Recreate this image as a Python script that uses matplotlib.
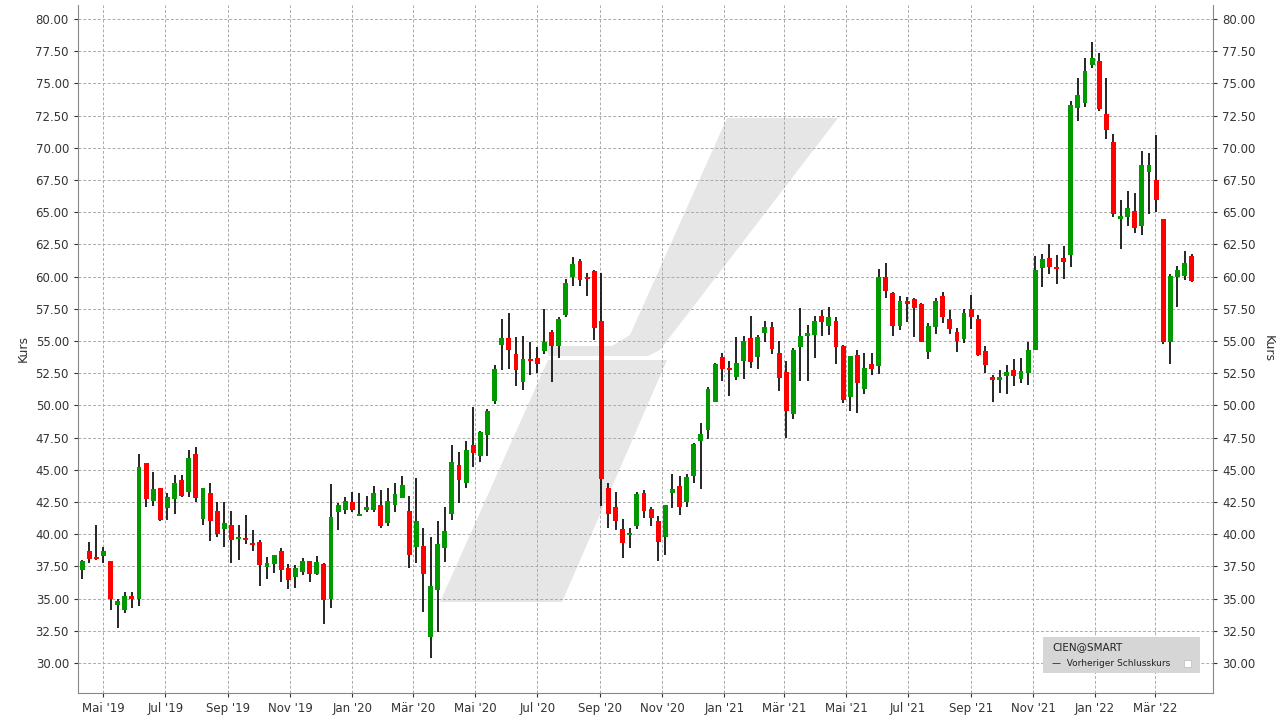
import matplotlib
matplotlib.use("Agg")
import matplotlib.pyplot as plt
import matplotlib.dates as mdates
from matplotlib.patches import Polygon, Rectangle
from matplotlib.transforms import IdentityTransform
import datetime as dt

start = dt.date(2019, 4, 10)
opens = [37.2,38.7,38.2,38.3,37.9,34.5,34.1,35.2,35.0,45.5,42.6,43.6,42.0,42.7,44.2,43.3,46.2,41.2,43.2,41.8,
         40.4,40.75,39.6,39.65,39.3,39.4,37.45,37.7,38.7,37.35,36.7,37.1,37.9,36.9,37.7,34.95,41.7,41.85,42.5,41.45,
         41.9,41.9,42.3,40.85,42.3,42.8,41.8,39.0,39.1,32.05,35.7,38.95,41.55,45.35,43.95,46.95,46.05,47.7,50.35,54.7,
         55.2,54.0,51.8,53.6,53.65,54.2,55.7,54.6,57.0,59.95,61.2,59.95,60.4,56.55,43.6,42.1,40.4,39.95,40.6,43.2,
         41.95,41.0,39.8,43.2,43.75,42.5,44.5,47.2,48.1,50.3,53.75,52.9,52.2,53.45,55.2,53.75,55.6,56.1,54.05,52.6,
         49.3,54.55,55.4,55.5,56.95,56.2,56.55,54.6,50.65,53.9,51.3,53.2,53.05,59.95,58.7,56.15,58.1,58.25,57.85,54.15,
         56.1,58.5,56.7,55.7,55.15,57.45,56.7,54.2,52.2,51.95,52.25,52.75,52.05,52.55,54.3,60.7,61.45,60.75,61.45,61.7,
         73.1,73.5,76.4,76.75,72.65,70.45,64.45,64.6,65.1,63.95,68.15,67.5,64.45,54.95,60.0,60.05,61.6]
closes = [37.95,38.1,38.05,38.7,35.0,34.8,35.2,35.0,45.2,42.7,43.5,41.1,42.9,44.0,43.0,45.9,42.8,43.6,41.0,40.0,
          40.9,39.55,39.8,39.55,39.15,37.6,37.75,38.4,37.2,36.45,37.4,37.9,36.9,37.85,34.9,41.3,42.25,42.6,41.85,41.55,
          42.1,43.2,40.6,42.6,43.15,43.85,38.4,41.05,36.9,35.95,39.25,40.25,45.6,44.2,46.5,46.3,47.9,49.6,52.8,55.2,
          54.3,52.75,53.6,53.45,53.2,54.95,54.6,56.7,59.5,60.95,59.7,59.8,56.0,44.3,41.6,41.0,39.3,40.1,43.1,41.8,
          41.25,39.4,42.3,43.5,42.1,44.45,47.0,47.8,51.3,53.2,52.85,52.75,53.3,55.0,53.4,55.3,56.1,54.4,52.1,49.55,
          54.3,55.4,55.6,56.55,56.5,56.85,54.5,50.45,53.8,51.75,52.9,52.85,59.95,58.9,56.15,58.1,57.85,57.6,54.95,56.15,
          58.1,56.9,55.95,55.0,57.15,56.9,53.95,53.15,51.95,52.2,52.6,52.25,52.65,54.3,60.5,61.35,60.75,60.6,61.1,73.3,
          74.1,76.0,77.0,73.0,71.4,64.9,64.7,65.35,63.8,68.65,68.65,65.95,54.95,60.05,60.5,61.05,59.65]
highs = [38.0,39.4,40.7,39.0,37.95,35.0,35.5,35.5,46.2,45.5,44.8,43.6,43.2,44.6,44.6,46.5,46.8,43.6,44.0,42.5,
         42.5,41.8,40.7,41.5,40.3,39.55,38.2,38.4,38.9,37.7,37.6,38.15,37.9,38.3,37.75,43.9,42.4,42.9,43.3,43.2,
         42.95,43.75,43.4,43.55,44.0,44.55,43.0,44.4,40.5,39.75,41.05,42.1,46.9,46.35,47.2,49.85,48.0,49.7,53.1,56.7,
         57.15,55.3,55.4,54.95,54.5,57.45,55.85,56.85,59.8,61.5,61.4,60.3,60.55,60.25,44.0,43.25,41.2,40.5,43.3,43.4,
         42.1,41.4,42.3,44.7,44.5,44.7,47.05,48.6,51.4,53.3,54.05,53.45,55.3,55.4,56.95,55.45,56.55,56.5,55.0,53.45,
         54.45,57.55,56.25,56.95,57.4,57.65,56.85,54.7,53.8,54.3,54.05,54.05,60.6,61.05,58.8,58.5,58.4,58.35,57.95,56.4,
         58.35,58.8,57.4,56.0,57.5,58.55,57.0,54.6,52.35,52.75,53.1,53.6,53.65,54.9,61.6,61.75,62.5,61.7,62.35,73.65,
         75.45,77.0,78.2,77.4,75.45,71.1,65.95,66.65,66.5,69.75,69.6,71.0,64.45,60.2,60.8,62.0,61.75]
lows = [36.5,37.8,38.0,37.8,34.1,32.7,33.9,34.3,34.4,42.1,42.2,41.0,41.1,41.6,42.9,42.9,42.5,40.7,39.5,39.8,
        39.0,37.8,38.0,39.25,38.7,36.0,36.5,37.0,36.3,35.75,35.8,36.85,36.3,36.8,33.0,34.3,40.3,41.55,41.7,41.4,
        41.7,41.7,40.45,40.6,41.7,42.8,37.4,37.8,33.95,30.4,32.4,37.85,41.1,42.45,43.55,45.2,45.6,46.05,50.1,52.75,
        52.85,51.5,51.2,52.35,52.5,54.0,51.8,53.65,56.9,59.25,59.25,58.5,55.05,42.2,40.5,40.35,38.15,38.9,40.4,41.25,
        40.6,37.9,38.4,42.05,41.5,42.1,43.95,43.5,47.4,50.3,51.9,50.7,51.95,52.05,52.9,52.85,54.9,54.0,51.1,47.5,
        48.95,51.9,51.9,53.7,55.4,55.45,53.25,50.2,49.6,49.4,50.9,52.35,52.45,58.35,55.4,55.85,56.45,55.3,54.95,53.6,
        55.55,56.4,55.55,54.15,54.85,55.95,53.8,52.5,50.25,50.95,50.9,51.5,51.75,51.6,54.3,59.2,60.2,59.4,59.8,60.75,
        72.1,73.2,76.2,72.85,70.7,64.65,62.15,63.95,63.4,63.25,64.9,65.05,54.8,53.2,57.65,59.7,59.6]

tick_months = [(2019,5),(2019,7),(2019,9),(2019,11),(2020,1),(2020,3),(2020,5),(2020,7),(2020,9),(2020,11),
               (2021,1),(2021,3),(2021,5),(2021,7),(2021,9),(2021,11),(2022,1),(2022,3)]
tick_labels = ["Mai '19","Jul '19","Sep '19","Nov '19","Jan '20","Mär '20","Mai '20","Jul '20","Sep '20","Nov '20",
               "Jan '21","Mär '21","Mai '21","Jul '21","Sep '21","Nov '21","Jan '22","Mär '22"]
yticks = [30 + 2.5*i for i in range(21)]

W, H = 1281, 720
fig = plt.figure(figsize=(W/100, H/100), dpi=100)
ax = fig.add_axes([78/W, 1-693/H, (1213-78)/W, (693-5)/H])

dates = [start + dt.timedelta(days=7*i) for i in range(len(opens))]
xs = mdates.date2num(dates)
for x, o, c, h, l in zip(xs, opens, closes, highs, lows):
    col = "#009a00" if c >= o else "#ff0000"
    ax.vlines(x, l, h, color="black", lw=1.2, zorder=3)
    lo, hi = min(o, c), max(o, c)
    ax.add_patch(Rectangle((x-2.4, lo), 4.8, max(hi-lo, 0.12), facecolor=col, edgecolor="none", zorder=4))

ax.set_xlim(mdates.date2num(dt.date(2019, 4, 6)), mdates.date2num(dt.date(2022, 4, 27)))
ax.set_ylim(27.67, 81.09)
ax.set_xticks([mdates.date2num(dt.date(y, m, 1)) for y, m in tick_months])
ax.set_xticklabels(tick_labels)
ax.set_yticks(yticks)
ax.set_yticklabels([f"{v:.2f}" for v in yticks])
ax.tick_params(labelsize=8.5, colors="#333333", length=3, right=True, labelright=True)
ax.grid(True, color="#aaaaaa", ls=(0, (3, 2)), lw=0.7)
ax.set_axisbelow(True)
for s in ["left", "right", "bottom"]:
    ax.spines[s].set_color("#888888")
ax.spines["top"].set_visible(False)
ax.set_ylabel("Kurs", fontsize=9, color="#333333")
fig.text(1268/W, 1-348/H, "Kurs", rotation=270, fontsize=9, color="#333333", ha="center", va="center")

def px(pts):
    return [(x, H - y) for x, y in pts]
wm = "#e6e6e6"
ax.add_patch(Polygon(px([(727,118),(838,118),(660,350),(648,356),(548,356),(548,346),(612,346),(630,335)]),
                     transform=IdentityTransform(), facecolor=wm, edgecolor="none", zorder=0.2))
ax.add_patch(Polygon(px([(548,360),(667,360),(562,602),(440,602)]),
                     transform=IdentityTransform(), facecolor=wm, edgecolor="none", zorder=0.2))

fig.patches.append(Rectangle((1043/W, 1-673/H), 157/W, 36/H, transform=fig.transFigure,
                             facecolor="#d6d6d6", edgecolor="none", zorder=5))
fig.text(1052/W, 1-647/H, "CIEN@SMART", fontsize=7.5, color="#222222", va="center", zorder=6)
fig.text(1052/W, 1-663/H, "—  Vorheriger Schlusskurs", fontsize=6.5, color="#222222", va="center", zorder=6)
fig.patches.append(Rectangle((1184/W, 1-667/H), 7/W, 7/H, transform=fig.transFigure,
                             facecolor="white", edgecolor="#bbbbbb", lw=0.5, zorder=6))

fig.savefig("out.png", dpi=100)
